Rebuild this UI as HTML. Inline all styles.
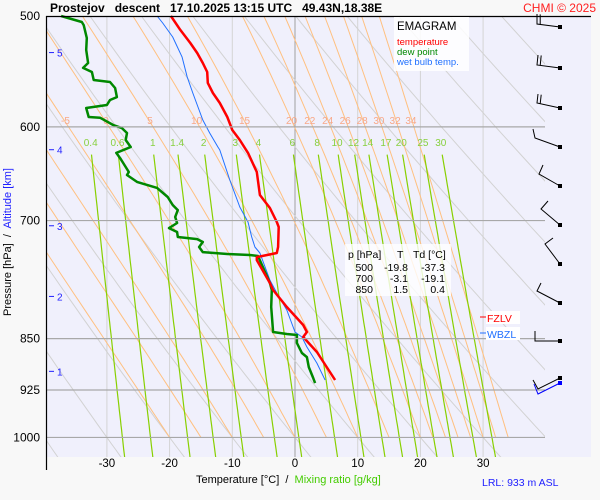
<!DOCTYPE html>
<html><head><meta charset="utf-8"><style>
html,body{margin:0;padding:0;background:#f8f8f8}
svg{display:block;font-family:"Liberation Sans",sans-serif}
</style></head><body>
<svg id="chart" width="600" height="500" viewBox="0 0 600 500" xmlns="http://www.w3.org/2000/svg">
<rect x="0" y="0" width="600" height="500" fill="#f8f8f8"/>
<rect x="46" y="16" width="545" height="441" fill="#f0f0fc"/>
<defs><clipPath id="clipA"><rect x="46" y="16" width="499" height="441"/></clipPath></defs>
<g id="bgLines" clip-path="url(#clipA)"></g>
<g id="labels"></g>
<g id="series"></g>
<g id="axes"></g>
<text x="50" y="12" font-size="12" font-weight="bold" fill="#000" xml:space="preserve">Prostejov   descent   17.10.2025 13:15 UTC   49.43N,18.38E</text>
<text x="596" y="12" font-size="12" fill="#ff2020" text-anchor="end">CHMI © 2025</text>
<g>
<rect x="394" y="17" width="75" height="54" fill="#ffffff" opacity="0.85"/>
<text x="397" y="30" font-size="11.5" fill="#000">EMAGRAM</text>
<text x="397" y="45" font-size="9.5" fill="#ff0000">temperature</text>
<text x="397" y="55" font-size="9.5" fill="#008800">dew point</text>
<text x="397" y="65" font-size="9.5" fill="#2070ff">wet bulb temp.</text>
</g>
<g font-size="10.5" fill="#000">
<rect x="345" y="244" width="106" height="52" fill="#ffffff" opacity="0.8"/>
<text x="348" y="258">p [hPa]</text>
<text x="397" y="258">T</text>
<text x="413" y="258">Td [°C]</text>
<text x="373" y="271" text-anchor="end">500</text><text x="408" y="271" text-anchor="end">-19.8</text><text x="445" y="271" text-anchor="end">-37.3</text>
<text x="373" y="282" text-anchor="end">700</text><text x="408" y="282" text-anchor="end">-3.1</text><text x="445" y="282" text-anchor="end">-19.1</text>
<text x="373" y="293" text-anchor="end">850</text><text x="408" y="293" text-anchor="end">1.5</text><text x="445" y="293" text-anchor="end">0.4</text>
</g>
<g>
<rect x="486" y="311" width="34" height="13" fill="#ffffff"/>
<line x1="480" y1="317" x2="486" y2="317" stroke="#ff0000"/>
<text x="487" y="322" font-size="10.5" fill="#ff0000">FZLV</text>
</g>
<g>
<rect x="486" y="327" width="34" height="13" fill="#ffffff"/>
<line x1="480" y1="333" x2="486" y2="333" stroke="#2070ff"/>
<text x="487" y="338" font-size="10.5" fill="#2070ff">WBZL</text>
</g>
<g id="barbs"></g>
<text x="482" y="486" font-size="10.5" fill="#2020ff">LRL: 933 m ASL</text>
<text x="196" y="483" font-size="11" fill="#000" xml:space="preserve">Temperature [°C]  /  <tspan fill="#44cc00">Mixing ratio [g/kg]</tspan></text>
<text transform="translate(11,242) rotate(-90)" text-anchor="middle" font-size="11" fill="#000" xml:space="preserve">Pressure [hPa]  /  <tspan fill="#2020ff">Altitude [km]</tspan></text>
</svg>
<script>
const tempP=[500,511.6,522.7,531.4,540.2,548.2,558.2,567.5,576.9,590.4,603.1,613.1,626.3,646.2,671.2,685.7,701.7,707.4,731.1,738.4,743.3,747,775.7,784.7,806.9,831.2,840.8,847.8,868.9,909.9];
const tempT=[-19.8,-18.3,-16.7,-15.6,-14.7,-14.0,-13.9,-13.1,-12.0,-10.8,-10.0,-8.8,-7.5,-6.1,-5.6,-4.0,-2.9,-2.6,-2.7,-2.9,-6.1,-6.1,-4.0,-3.5,-1.3,1.3,1.9,1.3,3.5,6.4];
const dewP=[500,505,507.5,518.4,528.7,540.2,544.6,548.2,555.5,557.3,562.9,571.3,574.1,578.8,581.7,590.4,591,598.2,601.2,606.1,613.1,620.2,626.3,631.6,636.8,646.2,649.4,656.9,663.4,673.4,682.3,688,695.9,702.8,708.7,713.3,719.2,721.6,725.1,731.1,737.2,739.6,740.8,742,775.7,784.7,806.9,840.8,843.6,845,856.1,870.4,876.2,890.7,906.9,914.5];
const dewT=[-37.3,-34.0,-33.7,-33.2,-33.3,-33.0,-33.8,-32.4,-32.1,-29.5,-28.7,-28.4,-29.5,-30.0,-33.3,-32.9,-31.1,-29.0,-27.6,-26.8,-27.0,-26.2,-28.5,-27.9,-27.4,-26.5,-26.8,-25.2,-22.0,-20.3,-19.5,-18.7,-19.1,-18.8,-20.1,-18.8,-18.7,-15.6,-14.7,-15.3,-14.7,-10.8,-7.2,-5.9,-4.0,-3.7,-3.8,-3.5,-1.3,0.3,0.3,1.1,1.9,2.2,2.9,3.2];
const wbP=[500,505.8,517.6,535.0,552.8,567.5,593.3,606.1,620.2,623.3,654.8,684.5,701.7,719.2,731.1,738.4,772.0,788.6,810.9,840.8,847.8,861.8,884.9,909.9];
const wbT=[-22.0,-21.1,-19.5,-18.0,-17.2,-16.3,-14.7,-13.6,-12.3,-12.0,-10.4,-8.8,-7.5,-6.9,-6.4,-5.6,-4.0,-2.9,-1.3,0.0,1.1,1.9,3.5,4.8];
const pressureTicks=[500,600,700,850,925,1000];
const tempTicks=[-30,-20,-10,0,10,20,30];
const isotherms=[-30,-20,-10,0,10,20,30];
const altKm=[5,4,3,2,1];
const altP=[531,623,706,793,897];
const thetaW=[-20,-15,-10,-5,0,5,10,15,20,22,24,26,28,30,32,34];
const thetaWLabels=[-5,0,5,10,15,20,22,24,26,28,30,32,34];
const thetaDry=[-40,-30,-20,-10,0,10,20,30,40,50,60,70,80,90,100,110];
const mixRatios=[0.4,0.6,1,1.4,2,3,4,6,8,10,12,14,17,20,25,30];
const barbY=[27,68,108,147,186,225,264,303,341,378];
const barbDx=[-23,-23,-23,-25,-21,-19,-15,-23,-25,-22];
const barbDy=[-3,-3,-5,-9,-12,-16,-20,-12,0,11];
const barbFx=[0,1,1,-2,4,7,8,4,0,-5];
const barbFy=[-10,-10,-9,-9,-9,-8,-6,-8,-10,-9];
const barbN=[2,2,2,1,1,1,1,1,1,1];

const NS="http://www.w3.org/2000/svg";
const X0=295, KX=6.27, Y0=16, KY=608;
function xT(t){return X0+KX*t;}
function yP(p){return Y0+KY*Math.log(p/500);}
function mk(tag,attrs,parent){const e=document.createElementNS(NS,tag);for(const k in attrs)e.setAttribute(k,attrs[k]);parent.appendChild(e);return e;}
const bg=document.getElementById('bgLines'), lab=document.getElementById('labels'), ser=document.getElementById('series'), ax=document.getElementById('axes'), bb=document.getElementById('barbs');

isotherms.forEach(t=>{
  const l=mk('line',{x1:xT(t),y1:16,x2:xT(t),y2:457,stroke:t===0?'#a0a0a0':'#d4d4d4','stroke-width':1},bg);
  
  
});
thetaDry.forEach(th=>{
  const pts=[];const TK=th+273.15;
  for(let p=480;p<=1040;p+=10){pts.push(xT(TK*Math.pow(p/1000,0.286)-273.15).toFixed(1)+','+yP(p).toFixed(1));}
  const l=mk('polyline',{points:pts.join(' '),fill:'none',stroke:'#d2d2d2','stroke-width':1},bg);
  
  
});
function es(Tc){return 6.112*Math.exp(17.67*Tc/(Tc+243.5));}
function dTdp(p,T){const e=es(T-273.15);const rs=0.622*e/(p-e);const Rd=287,cp=1005,Lv=2.5e6;
  return (Rd*T+Lv*rs)/(p*(cp+Lv*Lv*rs*0.622/(Rd*T*T)));}
function moistT(tw,ptarget){let T=tw+273.15,p=1000;const dp=ptarget<p?-2:2;
  while((dp<0&&p>ptarget)||(dp>0&&p<ptarget)){T+=dTdp(p,T)*dp;p+=dp;}return T-273.15;}
thetaW.forEach(tw=>{
  const pts=[];
  for(let p=500;p<=1000;p+=10){pts.push(xT(moistT(tw,p)).toFixed(1)+','+yP(p).toFixed(1));}
  const l=mk('polyline',{points:pts.join(' '),fill:'none',stroke:'#ffc080','stroke-width':1},bg);
  
  
});
thetaWLabels.forEach(tw=>{
  const t=mk('text',{x:(xT(moistT(tw,600))-3).toFixed(1),y:124,'font-size':10,fill:'#f8a888','text-anchor':'middle'},lab);
  t.textContent=tw;
  
  
});
function tdFromW(w,p){const e=w*p/(622+w);const a=Math.log(e/6.112);return 243.5*a/(17.67-a);}
mixRatios.forEach(w=>{
  const pts=[];
  for(let p=628;p<=1040;p+=8){pts.push(xT(tdFromW(w,p)).toFixed(1)+','+yP(p).toFixed(1));}
  const l=mk('polyline',{points:pts.join(' '),fill:'none',stroke:'#88d000','stroke-width':1.2},bg);
  
  
  const t=mk('text',{x:xT(tdFromW(w,620)).toFixed(1),y:146,'font-size':10,fill:'#88d040','text-anchor':'middle'},lab);
  t.textContent=w;
  
  
});
pressureTicks.forEach(p=>{
  if(p!==500){
    const l=mk('line',{x1:46,y1:yP(p),x2:545,y2:yP(p),stroke:'#a8a8a8','stroke-width':1.2},ax);
    
    
  }
  const t=mk('text',{x:40,y:yP(p)+4,'font-size':12,fill:'#000','text-anchor':'end'},ax);
  t.textContent=p;
  
  
});
const topBorder=mk('line',{x1:46,y1:16.5,x2:591,y2:16.5,stroke:'#000','stroke-width':1.3},ax);


const yAxisLine=mk('line',{x1:46.5,y1:16,x2:46.5,y2:470,stroke:'#000','stroke-width':1.2},ax);


tempTicks.forEach(t=>{
  const e=mk('text',{x:xT(t),y:467,'font-size':11.5,fill:'#000','text-anchor':'middle'},ax);
  e.textContent=t;
  
  
});
altKm.forEach((k,i)=>{
  const y=yP(altP[i]);
  const l=mk('line',{x1:49,y1:y,x2:54,y2:y,stroke:'#2020ff','stroke-width':1},ax);
  
  
  const t=mk('text',{x:57,y:y+4,'font-size':10,fill:'#2020ff'},ax);
  t.textContent=k;
  
  
});
function drawSeries(P,T,color,w,name){
  const pts=P.map((p,i)=>xT(T[i]).toFixed(1)+','+yP(p).toFixed(1)).join(' ');
  const l=mk('polyline',{points:pts,fill:'none',stroke:color,'stroke-width':w,'stroke-linejoin':'round'},ser);
  
  
}
drawSeries(wbP,wbT,'#2070ff',1,'wet-bulb-line');
drawSeries(dewP,dewT,'#008800',2.5,'dew-point-line');
drawSeries(tempP,tempT,'#ff0000',2.5,'temperature-line');
barbY.forEach((y,i)=>{
  const x=560, ex=x+barbDx[i], ey=y+barbDy[i];
  const g=mk('g',{},bb);
  
  
  let d='M'+x+' '+y+' L'+ex+' '+ey+' l'+barbFx[i]+' '+barbFy[i];
  if(barbN[i]>1){const ux=barbDx[i]/25*3.5, uy=barbDy[i]/25*3.5;d+=' M'+(ex-ux).toFixed(1)+' '+(ey-uy).toFixed(1)+' l'+barbFx[i]+' '+barbFy[i];}
  mk('path',{d:d,fill:'none',stroke:'#000','stroke-width':1},g);
  mk('rect',{x:x-2,y:y-2,width:4,height:4,fill:'#000'},g);
  if(i===barbY.length-1){
    const y2=y+5;
    mk('path',{d:'M'+x+' '+y2+' L'+(x+barbDx[i])+' '+(y2+barbDy[i])+' l-4 -10',fill:'none',stroke:'#0000ff','stroke-width':1},g);
    mk('rect',{x:x-2,y:y2-2,width:4,height:4,fill:'#0000ff'},g);
  }
});
</script>
</body></html>
